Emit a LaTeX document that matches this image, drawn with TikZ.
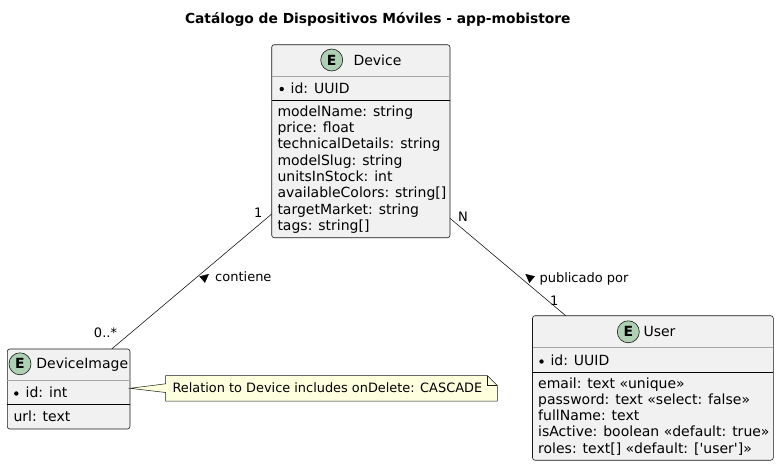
\documentclass[tikz,border=0pt]{standalone}
\usepackage{fontspec}
\setmainfont{DejaVu Sans}
\usetikzlibrary{calc}
\definecolor{boxfill}{HTML}{F1F1F1}
\definecolor{boxline}{HTML}{181818}
\definecolor{efill}{HTML}{ADD1B2}
\definecolor{notefill}{HTML}{FEFFDD}
\tikzset{
  cls/.style={draw=boxline, fill=boxfill, line width=0.6pt, rounded corners=2.5pt, inner sep=0pt, outer sep=0pt, anchor=north west},
  sepA/.style={draw=gray!70, line width=0.6pt},
  sepB/.style={draw=black, line width=0.7pt},
  txt/.style={inner sep=0pt, anchor=base west, font=\fontsize{14}{16.3}\selectfont, text=black},
  lbl/.style={inner sep=0pt, font=\fontsize{13}{15}\selectfont, text=black},
  ecirc/.style={circle, draw=boxline, fill=efill, line width=0.6pt, minimum size=22pt, inner sep=0pt, font=\fontsize{14}{16}\selectfont\bfseries},
  bul/.style={circle, fill=black, minimum size=4.4pt, inner sep=0pt},
  conn/.style={draw=boxline, line width=0.6pt},
  tri/.style={fill=black, draw=black, line width=0.3pt}
}
\begin{document}
\begin{tikzpicture}[x=1pt, y=-1pt]
\useasboundingbox (0,0) rectangle (779,467);
% title
\node[inner sep=0pt, anchor=base, font=\fontsize{13.8}{16}\selectfont\bfseries] (title) at (377.8,23) {Catálogo de Dispositivos Móviles - app-mobistore};

% ---------- Device ----------
\node[cls, minimum width=178.3pt, minimum height=193pt] (dev) at (271.7,44.7) {};
\draw[sepA] ($(dev.north west)+(0,31.3)$) -- ($(dev.north east)+(0,31.3)$);
\draw[sepB] ($(dev.north west)+(0,56)$) -- ($(dev.north east)+(0,56)$);
\node[ecirc] (devE) at (331.7,60) {E};
\node[txt] (devT) at (353.3,65) {Device};
\node[bul] (devB) at (281.7,89) {};
\node[txt] (devId) at (290.5,93) {id: UUID};
\node[txt] (devF1) at (277.3,116.3) {modelName: string};
\node[txt] (devF2) at (277.3,132.6) {price: float};
\node[txt] (devF3) at (277.3,148.9) {technicalDetails: string};
\node[txt] (devF4) at (277.3,165.2) {modelSlug: string};
\node[txt] (devF5) at (277.3,181.5) {unitsInStock: int};
\node[txt] (devF6) at (277.3,197.8) {availableColors: string[]};
\node[txt] (devF7) at (277.3,214.1) {targetMarket: string};
\node[txt] (devF8) at (277.3,230.4) {tags: string[]};

% ---------- DeviceImage ----------
\node[cls, minimum width=122.7pt, minimum height=80pt] (dimg) at (7.3,349) {};
\draw[sepA] ($(dimg.north west)+(0,31)$) -- ($(dimg.north east)+(0,31)$);
\draw[sepB] ($(dimg.north west)+(0,55.7)$) -- ($(dimg.north east)+(0,55.7)$);
\node[ecirc] (dimgE) at (20,363.8) {E};
\node[txt] (dimgT) at (36.2,368.8) {DeviceImage};
\node[bul] (dimgB) at (16.3,393.5) {};
\node[txt] (dimgId) at (25.5,397.5) {id: int};
\node[txt] (dimgF1) at (13.3,421) {url: text};

% ---------- User ----------
\node[cls, minimum width=240.8pt, minimum height=144.5pt] (usr) at (532.5,315.7) {};
\draw[sepA] ($(usr.north west)+(0,31.3)$) -- ($(usr.north east)+(0,31.3)$);
\draw[sepB] ($(usr.north west)+(0,56.3)$) -- ($(usr.north east)+(0,56.3)$);
\node[ecirc] (usrE) at (628.3,331.8) {E};
\node[txt] (usrT) at (643.3,336.8) {User};
\node[bul] (usrB) at (541.5,361.5) {};
\node[txt] (usrId) at (550.3,365.5) {id: UUID};
\node[txt] (usrF1) at (538,388) {email: text «unique»};
\node[txt] (usrF2) at (538,404.3) {password: text «select: false»};
\node[txt] (usrF3) at (538,420.6) {fullName: text};
\node[txt] (usrF4) at (538,436.9) {isActive: boolean «default: true»};
\node[txt] (usrF5) at (538,453.2) {roles: text[] «default: [\textquotesingle user\textquotesingle]»};

% ---------- note ----------
\coordinate (nTL) at (165.7,375.5);
\coordinate (nFA) at (487.3,375.5);
\coordinate (nFB) at (497.3,385.5);
\coordinate (nBR) at (497.3,401);
\coordinate (nBL) at (165.7,401);
\coordinate (nFC) at (487.3,385.5);
\coordinate (wA) at (130,388.3);
\coordinate (wB) at (165.7,383.8);
\coordinate (wC) at (165.7,392.5);
\draw[fill=notefill, draw=boxline, line width=0.5pt] (wA) -- (wB) -- (nTL) -- (nFA) -- (nFB) -- (nBR) -- (nBL) -- (wC) -- cycle;
\draw[draw=boxline, line width=0.5pt] (nFA) -- (nFC) -- (nFB);
\node[inner sep=0pt, anchor=base west, font=\fontsize{12.9}{15}\selectfont] (noteT) at (172.3,392.6) {Relation to Device includes onDelete: CASCADE};

% ---------- connectors ----------
\coordinate (c1a) at (271.7,214);
\coordinate (c1b) at (111.7,349);
\draw[conn] (c1a) -- (c1b);
\node[lbl, anchor=base east] (m1a) at (262.5,217.5) {1};
\node[lbl, anchor=base] (m1b) at (105.5,337.8) {0..*};
\node[lbl, anchor=base west] (l1) at (215,281.5) {contiene};
\coordinate (t1a) at (208.6,274.2);
\coordinate (t1b) at (204.9,282.5);
\coordinate (t1c) at (199.7,276.5);
\draw[tri] (t1a) -- (t1b) -- (t1c) -- cycle;

\coordinate (c2a) at (450,218.3);
\coordinate (c2b) at (565.7,315.7);
\draw[conn] (c2a) -- (c2b);
\node[lbl, anchor=base] (m2a) at (463,221) {N};
\node[lbl, anchor=base] (m2b) at (554.2,305) {1};
\node[lbl, anchor=base west] (l2) at (539.3,282.5) {publicado por};
\coordinate (t2a) at (525.7,274.2);
\coordinate (t2b) at (534.6,276.4);
\coordinate (t2c) at (529.4,282.6);
\draw[tri] (t2a) -- (t2b) -- (t2c) -- cycle;
\end{tikzpicture}
\end{document}
